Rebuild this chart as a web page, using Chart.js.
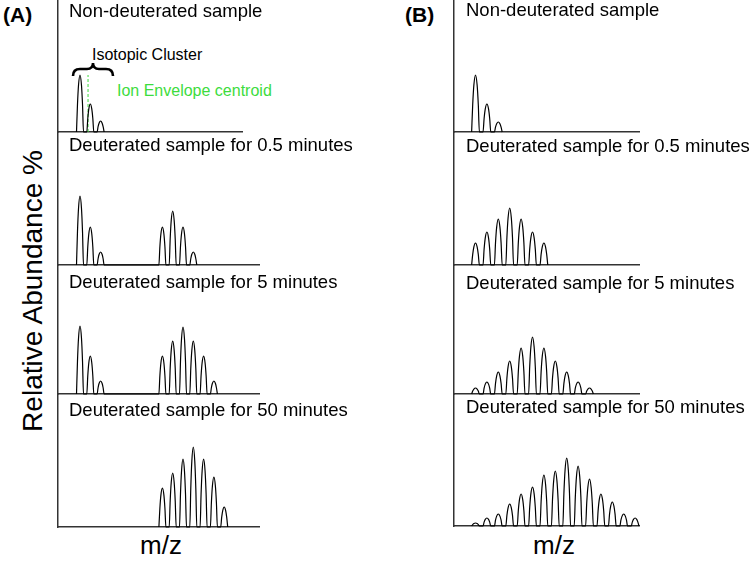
<!DOCTYPE html>
<html>
<head>
<meta charset="utf-8">
<title>HDX mass spectra</title>
<script src="https://cdn.jsdelivr.net/npm/chart.js@4.4.0/dist/chart.umd.min.js"></script>
<style>
    body { margin: 0; background: #fff; }
    #fig { position: relative; width: 756px; height: 564px; overflow: hidden;
           font-family: Arial, "Liberation Sans", sans-serif; color: #000; }
    .lbl { position: absolute; line-height: 1; white-space: nowrap; }
    .sub { font-size: 18.5px; }
    canvas { position: absolute; }
</style>
</head>
<body>
<div id="fig">
    <div class="lbl" style="left:3px;top:4px;font-size:21px;font-weight:bold;">(A)</div>
    <div class="lbl" style="left:405px;top:4px;font-size:21px;font-weight:bold;">(B)</div>

    <div class="lbl" style="left:33px;top:291px;font-size:28px;transform:translate(-50%,-50%) rotate(-90deg);">Relative Abundance %</div>

    <div class="lbl" style="left:161px;top:532px;font-size:26px;transform:translateX(-50%);">m/z</div>
    <div class="lbl" style="left:554px;top:532px;font-size:26px;transform:translateX(-50%);">m/z</div>

    <div class="lbl" style="left:92px;top:47px;font-size:16px;">Isotopic Cluster</div>
    <div class="lbl" style="left:117px;top:83px;font-size:16px;color:#3ddc3d;">Ion Envelope centroid</div>
    <svg style="position:absolute;left:0;top:0;" width="200" height="100">
        <path d="M73,76 Q73,69 80,69 L87,69 Q93,69 93,63 Q93,69 99,69 L106,69 Q113,69 113,76"
              fill="none" stroke="#000" stroke-width="2.6"/>
    </svg>
</div>

<script>
    // индексы пиков по m/z (шаг изотопа), высоты - относительная интенсивность
    const panelTitles = [
        'Non-deuterated sample',
        'Deuterated sample for 0.5 minutes',
        'Deuterated sample for 5 minutes',
        'Deuterated sample for 50 minutes'
    ];

    // (A) - бимодальный обмен (EX1)
    const nonDeutA = [57, 28, 11];
    const deut05A = [69, 38, 13, 0, 0, 0, 0, 0, 38, 54, 38, 13];
    const deut5A = [68, 38, 13, 0, 0, 0, 0, 0, 38, 53, 67, 53, 38, 13];
    const deut50A = [0, 0, 0, 0, 0, 0, 0, 0, 39, 54, 68, 80, 68, 50, 20];

    // (B) - постепенный сдвиг (EX2)
    const nonDeutB = [57, 28, 10];
    const deut05B = [22, 33, 46, 57, 46, 33, 22];
    const deut5B = [6, 12, 22, 33, 46, 57, 46, 33, 22, 12, 6];
    const deut50B = [3, 8, 12, 22, 32, 39, 51, 55, 68, 60, 47, 32, 24, 12, 8];

    // центроид огибающей (только для первого спектра A)
    const centroidX = 0.78;
    const centroidTop = 57;

    // форма одного пика (доля полуширины)
    const PROFILE = [-1, -0.72, -0.42, 0, 0.42, 0.72, 1];
    const HALF_WIDTH = 0.34;

    const fig = document.getElementById('fig');

    // геометрия колонок: положение оси, первого пика, шаг изотопа
    const columns = {
        A: {axisX: 58, x0: 80, step: 10.3, textX: 69, ends: [243, 260, 260, 260],
            tops: [0, 132, 265, 394], bases: [132, 265, 394, 527], textTops: [2, 136, 273, 401],
            spectra: [nonDeutA, deut05A, deut5A, deut50A]},
        B: {axisX: 454, x0: 475.5, step: 11.4, textX: 466, ends: [640, 640, 640, 640],
            tops: [0, 132, 265, 394], bases: [132, 265, 394, 526], textTops: [1, 137, 274, 398],
            spectra: [nonDeutB, deut05B, deut5B, deut50B]}
    };

    function peakPoints(heights) {
        const points = [];
        heights.forEach((h, i) => {
            if (!h) return;
            PROFILE.forEach(t => points.push({x: i + t * HALF_WIDTH, y: h * (1 - t * t)}));
        });
        return points;
    }

    function addSpectrum(col, k, name) {
        const pad = 2;
        const width = col.ends[k] - col.axisX;
        const height = col.bases[k] - col.tops[k];

        const canvas = document.createElement('canvas');
        canvas.width = width + pad;
        canvas.height = height + pad;
        canvas.style.left = (col.axisX - pad) + 'px';
        canvas.style.top = col.tops[k] + 'px';
        fig.appendChild(canvas);

        const title = document.createElement('div');
        title.className = 'lbl sub';
        title.style.left = col.textX + 'px';
        title.style.top = col.textTops[k] + 'px';
        title.textContent = panelTitles[k];
        fig.appendChild(title);

        const datasets = [{
            data: peakPoints(col.spectra[k]),
            borderColor: '#000',
            borderWidth: 1.2,
            pointRadius: 0,
            cubicInterpolationMode: 'monotone',
            clip: false
        }];

        if (name === 'A' && k === 0) {
            datasets.push({
                data: [{x: centroidX, y: 0}, {x: centroidX, y: centroidTop}],
                borderColor: '#3ddc3d',
                borderWidth: 1,
                borderDash: [3, 2],
                pointRadius: 0,
                clip: false
            });
        }

        const axisStyle = {
            display: true,
            grid: {display: false, drawTicks: false},
            ticks: {display: false},
            border: {display: true, color: '#333', width: 1.5}
        };

        new Chart(canvas, {
            type: 'line',
            data: {datasets: datasets},
            options: {
                responsive: false,
                animation: false,
                events: [],
                layout: {padding: {left: pad, bottom: pad, top: 0, right: 0}},
                plugins: {legend: {display: false}, tooltip: {enabled: false}},
                scales: {
                    x: {...axisStyle, type: 'linear',
                        min: (col.axisX - col.x0) / col.step,
                        max: (col.ends[k] - col.x0) / col.step},
                    y: {...axisStyle, min: 0, max: height}
                }
            }
        });
    }

    for (let name in columns) {
        for (let k = 0; k < 4; k++) {
            addSpectrum(columns[name], k, name);
        }
    }
</script>
</body>
</html>
